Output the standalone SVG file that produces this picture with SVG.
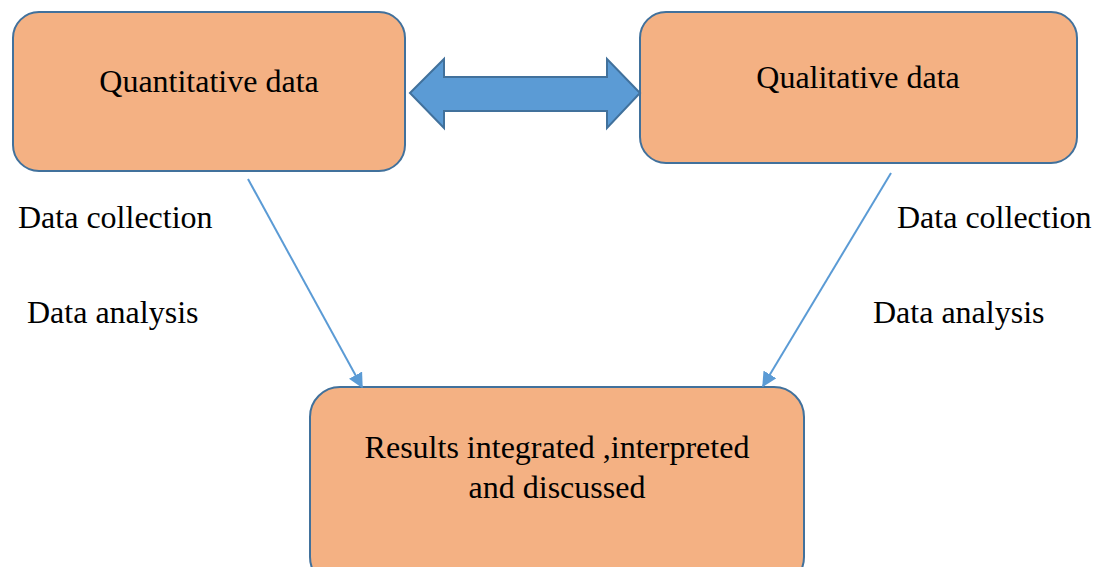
<svg xmlns="http://www.w3.org/2000/svg" width="1100" height="567" viewBox="0 0 1100 567">
  <style>
    .box { fill: #F4B183; stroke: #41719C; stroke-width: 2; }
    .lbl { font-family: "Liberation Serif", "Times New Roman", serif; font-size: 32px; fill: #000; }
    .mid { text-anchor: middle; }
    .conn { stroke: #5B9BD5; stroke-width: 2; fill: none; }
    .dbl { fill: #5B9BD5; stroke: #41719C; stroke-width: 2; stroke-linejoin: miter; }
  </style>
  <defs>
    <marker id="head" viewBox="0 0 10 10" refX="9" refY="5" markerWidth="7.5" markerHeight="7.5" markerUnits="strokeWidth" orient="auto">
      <path d="M0,0 L10,5 L0,10 Z" fill="#5B9BD5"/>
    </marker>
  </defs>

  <rect width="1100" height="567" fill="#fff"/>

  <g id="quantitative">
    <rect class="box" x="13" y="12" width="392" height="159" rx="26"/>
    <text class="lbl mid" x="209" y="92">Quantitative data</text>
  </g>

  <g id="qualitative">
    <rect class="box" x="640" y="12" width="437" height="151" rx="26"/>
    <text class="lbl mid" x="858" y="88">Qualitative data</text>
  </g>

  <g id="results">
    <rect class="box" x="310" y="387" width="494" height="200" rx="30"/>
    <text class="lbl mid" x="557" y="458">Results integrated ,interpreted</text>
    <text class="lbl mid" x="557" y="498">and discussed</text>
  </g>

  <g id="step-labels">
    <text class="lbl" x="18" y="228">Data collection</text>
    <text class="lbl" x="27" y="323">Data analysis</text>
    <text class="lbl" x="897" y="228">Data collection</text>
    <text class="lbl" x="873" y="323">Data analysis</text>
  </g>

  <g id="connectors">
    <path class="dbl" d="M410,93 L444,59 L444,77 L607,77 L607,59 L640,93 L607,128 L607,111 L444,111 L444,128 Z"/>
    <line class="conn" x1="248" y1="179" x2="362" y2="387" marker-end="url(#head)"/>
    <line class="conn" x1="891" y1="173" x2="763" y2="386" marker-end="url(#head)"/>
  </g>
</svg>
